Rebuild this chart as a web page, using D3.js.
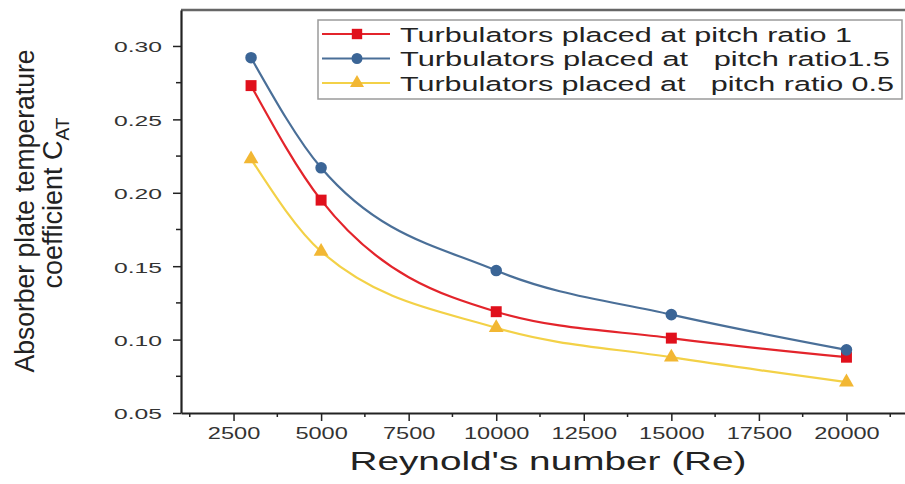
<!DOCTYPE html>
<html>
<head>
<meta charset="utf-8">
<script src="https://cdn.jsdelivr.net/npm/d3@7.9.0/dist/d3.min.js"></script>
<style>
  body { margin: 0; background: #fff; }
  svg { display: block; font-family: "Liberation Sans", Arial, sans-serif; }
  text { white-space: pre; }
</style>
</head>
<body>
<svg id="chart" width="905" height="484"></svg>
<script>
const reynolds = [3000, 5000, 10000, 15000, 20000];
const pitch1 = [0.273, 0.195, 0.119, 0.101, 0.088];
const pitch15 = [0.292, 0.217, 0.147, 0.117, 0.093];
const pitch05 = [0.223, 0.160, 0.108, 0.088, 0.071];
const xTicks = [2500, 5000, 7500, 10000, 12500, 15000, 17500, 20000];
const yTicks = [0.05, 0.10, 0.15, 0.20, 0.25, 0.30];
const legendLabels = [
  'Turbulators placed at pitch ratio 1',
  'Turbulators placed at   pitch ratio1.5',
  'Turbulators placed at   pitch ratio 0.5'
];

const series = [
  { name: legendLabels[0], values: pitch1, line: '#e3242b', fill: '#e0101c', shape: d3.symbolSquare, size: 120, textLen: 452 },
  { name: legendLabels[1], values: pitch15, line: '#4a6f98', fill: '#3b6596', shape: d3.symbolCircle, size: 105, textLen: 490 },
  { name: legendLabels[2], values: pitch05, line: '#f3d147', fill: '#f2b733', shape: d3.symbolTriangle, size: 95, textLen: 494 }
];

const svg = d3.select('#chart');
const plotL = 181, plotR = 906, plotT = 10, plotB = 413;

const x = d3.scaleLinear().domain([1000, 21700]).range([plotL, plotR]);
const y = d3.scaleLinear().domain([0.05, 0.3245]).range([plotB, plotT]);

// frame top
svg.append('line')
  .attr('x1', plotL).attr('x2', 905).attr('y1', plotT).attr('y2', plotT)
  .attr('stroke', '#666').attr('stroke-width', 2.5);

// minor ticks
const xMinor = d3.range(1250, 21700, 1250).filter(v => v % 2500 !== 0);
const yMinor = d3.range(0.075, 0.32, 0.05);

svg.append('g').selectAll('line').data(xMinor).join('line')
  .attr('x1', d => x(d)).attr('x2', d => x(d))
  .attr('y1', plotB).attr('y2', plotB + 4)
  .attr('stroke', '#222').attr('stroke-width', 1.5);
svg.append('g').selectAll('line').data(yMinor).join('line')
  .attr('x1', plotL).attr('x2', plotL - 5)
  .attr('y1', d => y(d)).attr('y2', d => y(d))
  .attr('stroke', '#222').attr('stroke-width', 1.5);

// x axis
const xAxis = svg.append('g')
  .attr('transform', `translate(0,${plotB})`)
  .call(d3.axisBottom(x).tickValues(xTicks).tickSize(8).tickPadding(10).tickSizeOuter(0).tickFormat(d3.format('d')));
xAxis.select('.domain').attr('stroke', '#222').attr('stroke-width', 2.2);
xAxis.selectAll('.tick line').attr('stroke', '#222').attr('stroke-width', 1.5);
xAxis.selectAll('.tick text')
  .attr('font-size', 16).attr('fill', '#333').attr('y', 0).attr('dy', 26)
  .attr('textLength', d => String(d).length * 13.1)
  .attr('lengthAdjust', 'spacingAndGlyphs');

// y axis
const yAxis = svg.append('g')
  .attr('transform', `translate(${plotL},0)`)
  .call(d3.axisLeft(y).tickValues(yTicks).tickSize(8).tickPadding(11).tickSizeOuter(0).tickFormat(d3.format('.2f')));
yAxis.select('.domain').attr('stroke', '#222').attr('stroke-width', 2.2);
yAxis.selectAll('.tick line').attr('stroke', '#222').attr('stroke-width', 1.5);
yAxis.selectAll('.tick text')
  .attr('font-size', 15.5).attr('fill', '#333').attr('dy', '0.38em')
  .attr('textLength', 48).attr('lengthAdjust', 'spacingAndGlyphs');

// axis titles
svg.append('text')
  .attr('x', 548).attr('y', 470).attr('text-anchor', 'middle')
  .attr('font-size', 25).attr('fill', '#222')
  .attr('textLength', 397).attr('lengthAdjust', 'spacingAndGlyphs')
  .text("Reynold's number (Re)");

svg.append('text')
  .attr('transform', 'translate(34,211) rotate(-90)')
  .attr('text-anchor', 'middle').attr('font-size', 27).attr('fill', '#222')
  .attr('textLength', 323).attr('lengthAdjust', 'spacingAndGlyphs')
  .text('Absorber plate temperature');

const t2 = svg.append('text')
  .attr('transform', 'translate(62,203) rotate(-90)')
  .attr('text-anchor', 'middle').attr('font-size', 27).attr('fill', '#222');
t2.append('tspan').text('coefficient C');
t2.append('tspan').attr('font-size', 19).attr('dy', 7).text('AT');

// lines and markers
const line = d3.line()
  .x((d, i) => x(reynolds[i]))
  .y(d => y(d))
  .curve(d3.curveMonotoneX);

series.forEach(s => {
  svg.append('path')
    .attr('d', line(s.values))
    .attr('fill', 'none').attr('stroke', s.line).attr('stroke-width', 2.2);
  svg.append('g').selectAll('path').data(s.values).join('path')
    .attr('transform', (d, i) => `translate(${x(reynolds[i])},${y(d)})`)
    .attr('d', d3.symbol().type(s.shape).size(s.size))
    .attr('fill', s.fill);
});

// legend
const lg = svg.append('g');
lg.append('rect')
  .attr('x', 318).attr('y', 20).attr('width', 584).attr('height', 79)
  .attr('fill', '#fff').attr('stroke', '#9a9a9a').attr('stroke-width', 1.5);

series.forEach((s, i) => {
  const cy = 34 + i * 24.5;
  lg.append('line')
    .attr('x1', 322).attr('x2', 390).attr('y1', cy).attr('y2', cy)
    .attr('stroke', s.line).attr('stroke-width', 2.2);
  lg.append('path')
    .attr('transform', `translate(357,${cy})`)
    .attr('d', d3.symbol().type(s.shape).size(s.size * 0.9))
    .attr('fill', s.fill);
  lg.append('text')
    .attr('x', 400).attr('y', cy + 7.5)
    .attr('font-size', 20.5).attr('fill', '#222')
    .attr('textLength', s.textLen).attr('lengthAdjust', 'spacingAndGlyphs')
    .text(s.name);
});
</script>
</body>
</html>
